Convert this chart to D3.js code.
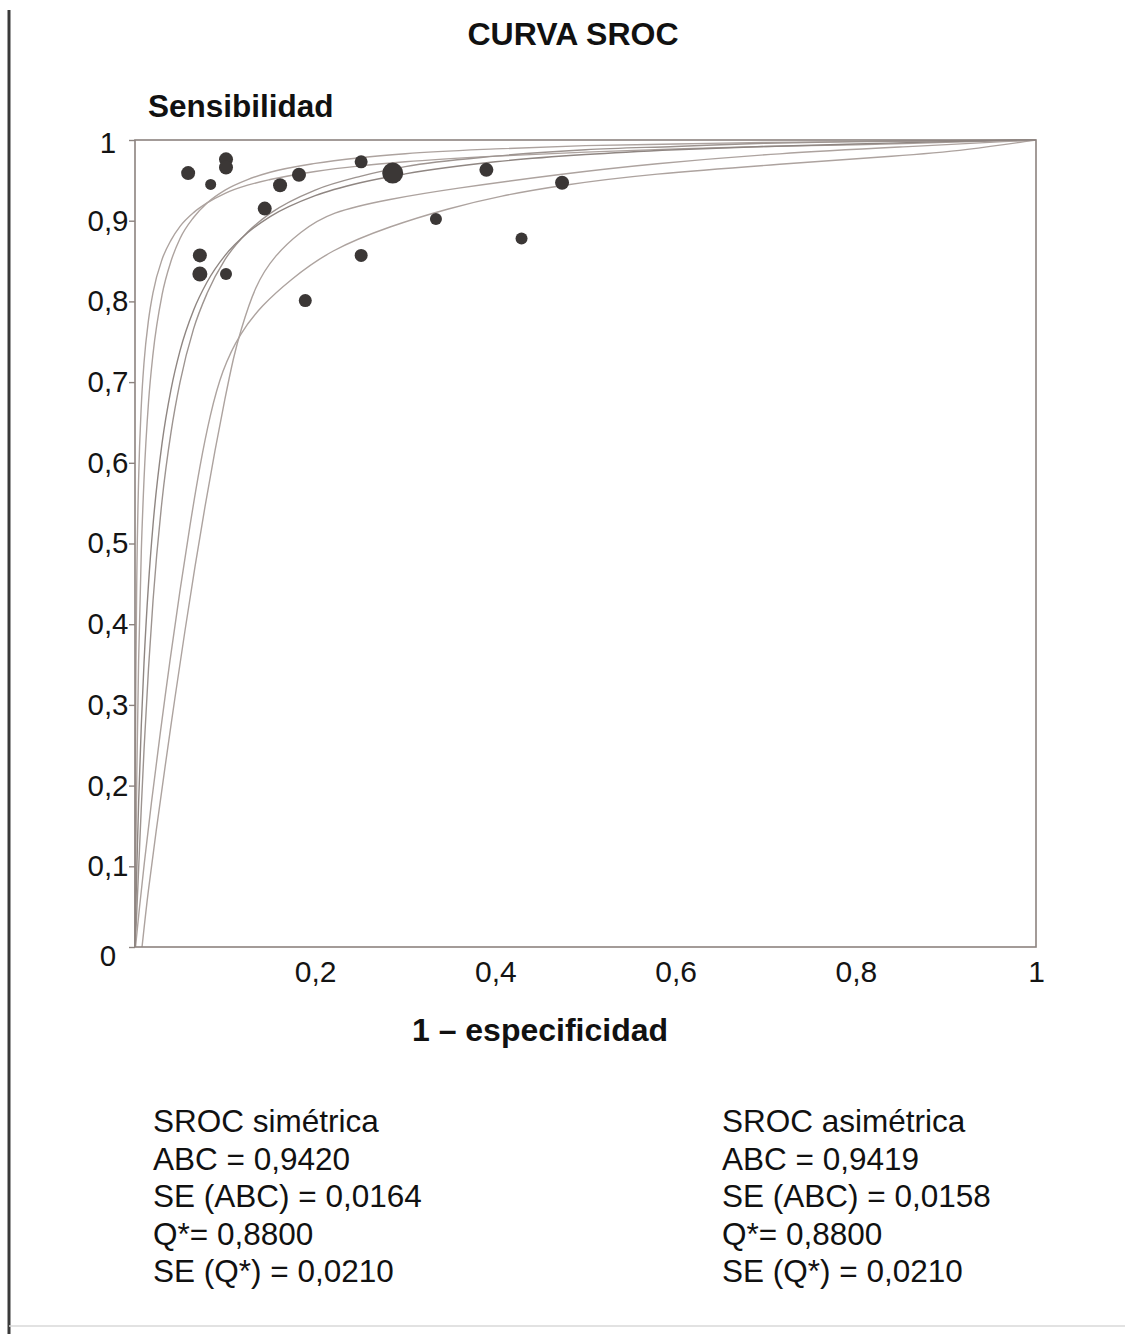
<!DOCTYPE html>
<html><head><meta charset="utf-8">
<script src="https://cdn.jsdelivr.net/npm/d3@7"></script>
<style>
body{margin:0;background:#fff;}
svg{display:block;font-family:"Liberation Sans",Arial,Helvetica,sans-serif;}
</style></head>
<body><svg id="chart" width="1125" height="1334"></svg>
<script>
// ---- data: studies ----
const studyFPR = [0.059,0.084,0.101,0.101,0.182,0.161,0.144,0.072,0.072,0.101,0.189,0.251,0.286,0.390,0.474,0.334,0.251,0.429];
const studyTPR = [0.959,0.945,0.976,0.966,0.957,0.944,0.915,0.857,0.834,0.834,0.801,0.973,0.959,0.963,0.947,0.902,0.857,0.878];
const studyWeight = [7,5.5,7,7,7,7,7,7,7.5,6,6.5,6.5,10.5,7,7,6,6.5,6];

// ---- data: curves ----
const curveFPR = [0,0.0001,0.0003,0.001,0.002,0.004,0.007,0.01,0.015,0.02,0.03,0.04,0.05,0.065,0.08,0.1,0.125,0.15,0.2,0.25,0.3,0.4,0.5,0.6,0.7,0.8,0.9,1];
const upperSymTPR  = [0,0.013,0.039,0.120,0.214,0.354,0.490,0.579,0.675,0.735,0.808,0.850,0.878,0.904,0.922,0.938,0.951,0.960,0.971,0.978,0.983,0.989,0.993,0.995,0.997,0.998,0.999,1];
const upperAsymTPR = [0,0.094,0.183,0.342,0.458,0.579,0.671,0.724,0.777,0.811,0.852,0.876,0.893,0.910,0.922,0.934,0.944,0.951,0.961,0.968,0.973,0.980,0.985,0.989,0.992,0.994,0.997,1];
const centralSymTPR  = [0,0.005,0.016,0.051,0.097,0.178,0.275,0.352,0.450,0.523,0.624,0.691,0.739,0.789,0.824,0.857,0.885,0.905,0.931,0.947,0.958,0.973,0.982,0.988,0.992,0.995,0.998,1];
const centralAsymTPR = [0,0.001,0.005,0.020,0.044,0.096,0.173,0.244,0.345,0.429,0.553,0.638,0.700,0.766,0.810,0.852,0.886,0.909,0.938,0.955,0.967,0.980,0.988,0.992,0.996,0.998,0.999,1];
const lowerSteepFPR = [0.0078,0.0144,0.0233,0.0333,0.0444,0.0555,0.0666,0.0777,0.0888,0.0999,0.1099,0.1165,0.1332,0.1554,0.1831,0.2164,0.2830,0.3496,0.4739,0.5716,0.7181,0.8490,1];
const lowerSteepTPR = [0,0.0682,0.1425,0.2230,0.3098,0.3928,0.4721,0.5465,0.6159,0.6803,0.7336,0.7608,0.8203,0.8575,0.8860,0.9108,0.9269,0.9393,0.9579,0.9703,0.9839,0.9913,1];
const lowerFlatFPR = [0.0006,0.0044,0.0100,0.0178,0.0277,0.0388,0.0499,0.0610,0.0721,0.0832,0.0966,0.1165,0.1410,0.1720,0.2164,0.2830,0.3496,0.4051,0.4739,0.5716,0.7181,0.8490,0.9234,1];
const lowerFlatTPR = [0,0.0434,0.1016,0.1760,0.2627,0.3556,0.4424,0.5229,0.5973,0.6592,0.7150,0.7608,0.7955,0.8265,0.8637,0.8934,0.9158,0.9307,0.9442,0.9579,0.9703,0.9802,0.9876,1];

const yTicks = [0,0.1,0.2,0.3,0.4,0.5,0.6,0.7,0.8,0.9,1];
const xTicks = [0.2,0.4,0.6,0.8,1];
const statsSym = ["SROC simétrica","ABC = 0,9420","SE (ABC) = 0,0164","Q*= 0,8800","SE (Q*) = 0,0210"];
const statsAsym = ["SROC asimétrica","ABC = 0,9419","SE (ABC) = 0,0158","Q*= 0,8800","SE (Q*) = 0,0210"];

const svg = d3.select("#chart");
const L=135, R=1036, T=140, B=947;
const x = d3.scaleLinear().domain([0,1]).range([L,R]);
const y = d3.scaleLinear().domain([0,1]).range([B,T]);
const loc = d3.formatLocale({decimal:",",thousands:".",grouping:[3],currency:["",""]});
const fmt = d => (d===0||d===1) ? String(d) : loc.format(".1f")(d);

// page frame
svg.append("line").attr("x1",9).attr("x2",9).attr("y1",10).attr("y2",1334).attr("stroke","#3a3a3a").attr("stroke-width",3);
svg.append("line").attr("x1",9).attr("x2",1125).attr("y1",1326).attr("y2",1326).attr("stroke","#d8d8d8").attr("stroke-width",1.5);

// curves
const curves = [
  {fpr:curveFPR, tpr:upperAsymTPR, c:"#ada39f", k:d3.curveMonotoneX},
  {fpr:curveFPR, tpr:upperSymTPR, c:"#ada39f", k:d3.curveMonotoneX},
  {fpr:curveFPR, tpr:centralAsymTPR, c:"#9d9490", k:d3.curveMonotoneX},
  {fpr:curveFPR, tpr:centralSymTPR, c:"#8f8682", k:d3.curveMonotoneX},
  {fpr:lowerSteepFPR, tpr:lowerSteepTPR, c:"#ada39f", k:d3.curveBasis},
  {fpr:lowerFlatFPR, tpr:lowerFlatTPR, c:"#ada39f", k:d3.curveBasis}
];
const g = svg.append("g");
curves.forEach(cv=>{
  const line = d3.line().x(d=>x(d[0])).y(d=>y(d[1])).curve(cv.k);
  const pts = cv.fpr.map((f,i)=>[f,cv.tpr[i]]);
  g.append("path").attr("d",line(pts)).attr("fill","none").attr("stroke",cv.c).attr("stroke-width",1.4);
});

// frame
svg.append("rect").attr("x",L).attr("y",T).attr("width",R-L).attr("height",B-T).attr("fill","none").attr("stroke","#8c837f").attr("stroke-width",1.6);

// points
svg.append("g").selectAll("circle").data(studyFPR).join("circle")
  .attr("cx",(d,i)=>x(d)).attr("cy",(d,i)=>y(studyTPR[i])).attr("r",(d,i)=>studyWeight[i])
  .attr("fill","#3b3736");

// axes
const ya = svg.append("g").attr("transform",`translate(${L},0)`)
  .call(d3.axisLeft(y).tickValues(yTicks).tickFormat(fmt).tickSize(6).tickPadding(6));
ya.select(".domain").remove();
ya.selectAll("line").attr("stroke","#8c837f").attr("stroke-width",1.4);
ya.selectAll("text").attr("font-size",29.5).attr("fill","#141414").attr("font-family","Liberation Sans, Arial, sans-serif")
  .attr("text-anchor","middle").attr("x",108-L)
  .attr("dy",d=> d===0 ? "0.62em" : d===1 ? "0.42em" : "0.32em");

const xa = svg.append("g").attr("transform",`translate(0,${B})`)
  .call(d3.axisBottom(x).tickValues(xTicks).tickFormat(fmt).tickSize(0).tickPadding(14));
xa.select(".domain").remove();
xa.selectAll("text").attr("font-size",30).attr("fill","#141414").attr("font-family","Liberation Sans, Arial, sans-serif");

// titles
svg.append("text").attr("x",573).attr("y",45).attr("text-anchor","middle").attr("font-weight","bold").attr("font-size",32).attr("fill","#111").text("CURVA SROC");
svg.append("text").attr("x",148).attr("y",117).attr("font-weight","bold").attr("font-size",31.5).attr("fill","#111").text("Sensibilidad");
svg.append("text").attr("x",540).attr("y",1041).attr("text-anchor","middle").attr("font-weight","bold").attr("font-size",32).attr("fill","#111").text("1 – especificidad");

// stats
[[statsSym,153],[statsAsym,722]].forEach(([arr,x0])=>{
  svg.append("g").selectAll("text").data(arr).join("text")
    .attr("x",x0).attr("y",(d,i)=>1132+i*37.5).attr("font-size",31.5).attr("fill","#111").text(d=>d);
});
</script></body></html>
